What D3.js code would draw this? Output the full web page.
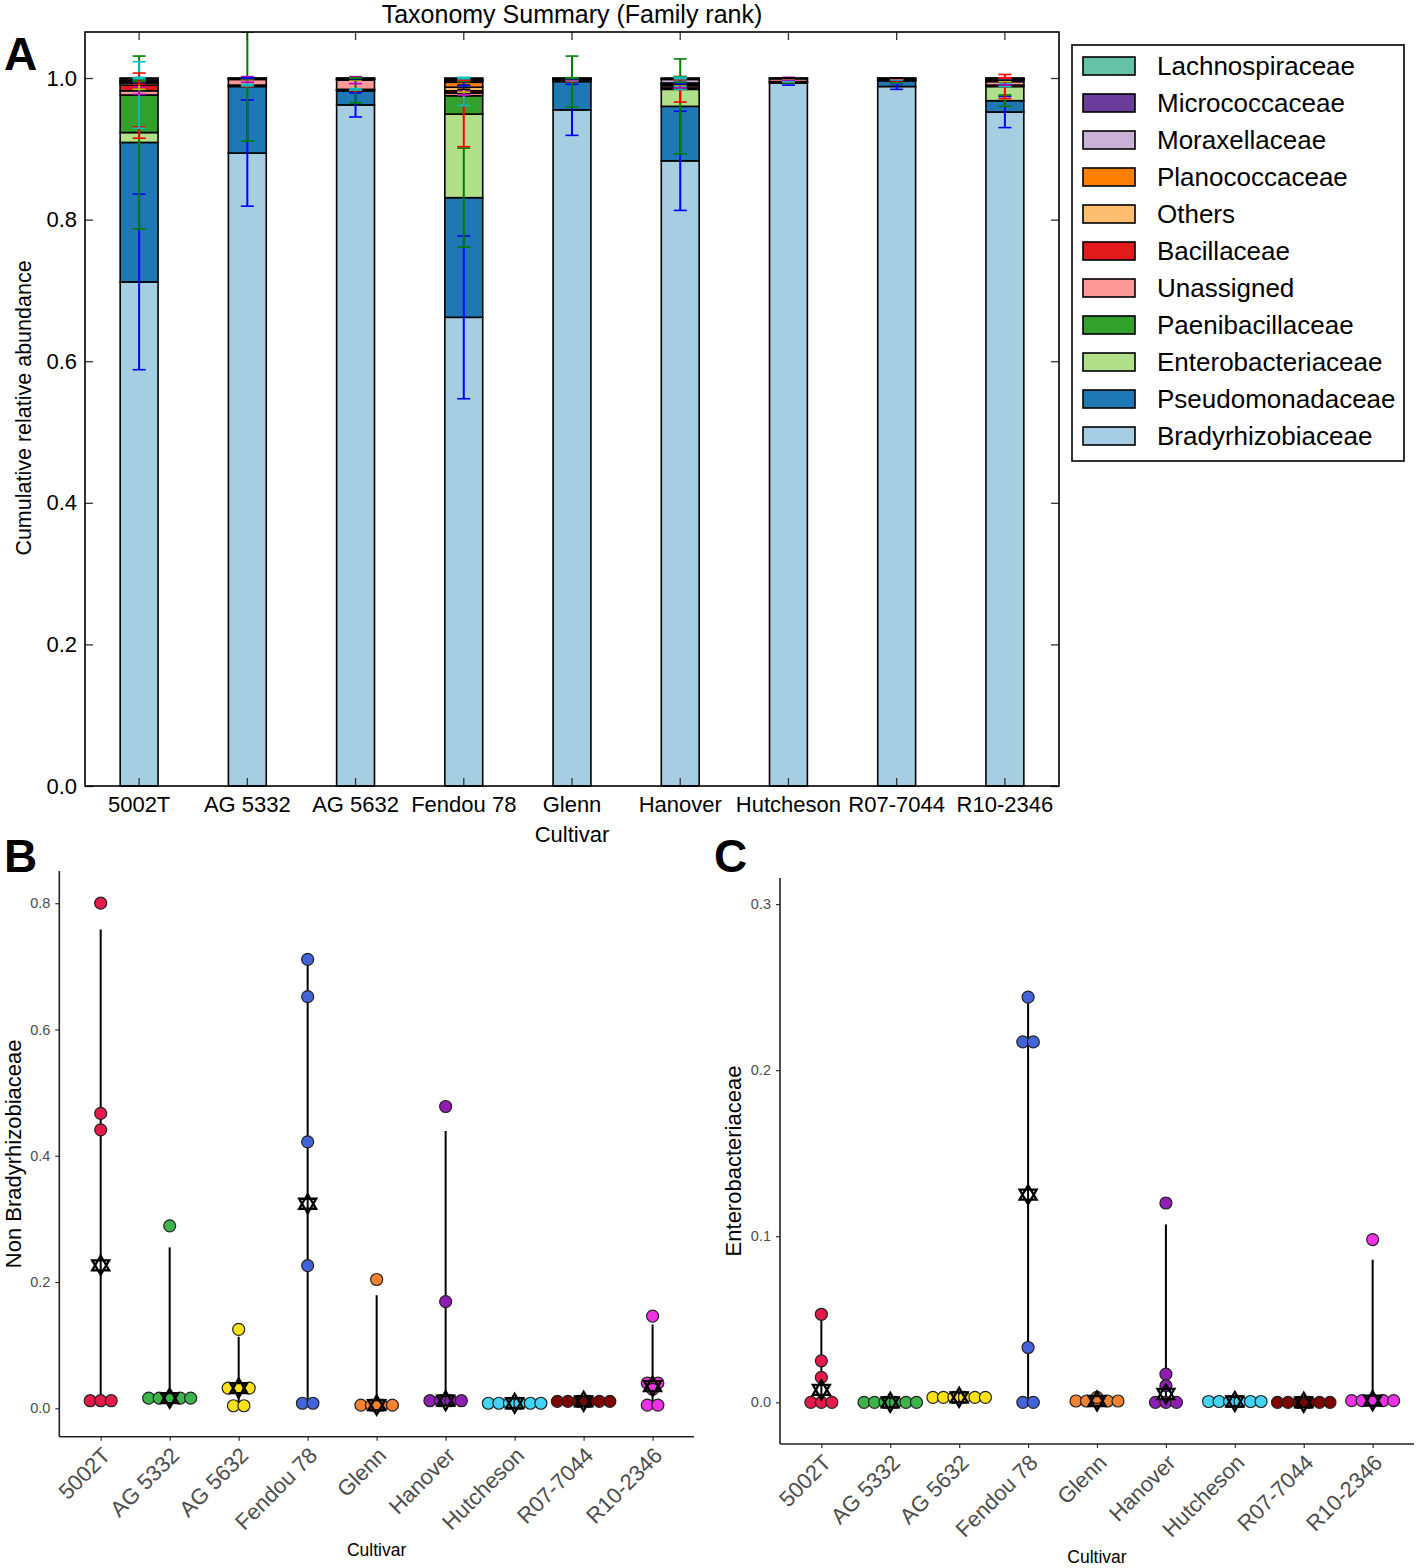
<!DOCTYPE html>
<html>
<head>
<meta charset="utf-8">
<script src="https://cdn.jsdelivr.net/npm/d3@7"></script>
<style>
  body { margin: 0; background: #fff; }
  svg { display: block; }
  text { font-family: "Liberation Sans", Arial, sans-serif; }
</style>
</head>
<body>
<svg id="chart" width="1418" height="1568"></svg>
<script>
// ---------------- DATA ----------------
const cultivars = ["5002T", "AG 5332", "AG 5632", "Fendou 78", "Glenn", "Hanover", "Hutcheson", "R07-7044", "R10-2346"];

const families = ["Bradyrhizobiaceae", "Pseudomonadaceae", "Enterobacteriaceae", "Paenibacillaceae",
  "Unassigned", "Bacillaceae", "Others", "Planococcaceae", "Moraxellaceae", "Micrococcaceae", "Lachnospiraceae"];
const familyColors = ["#a6cee3", "#1f78b4", "#b2df8a", "#33a02c", "#fb9a99", "#e31a1c",
  "#fdbf6f", "#ff7f00", "#cab2d6", "#6a3d9a", "#66c2a5"];

// mean relative abundance per cultivar (same order as cultivars)
const bradyrhizobiaceae  = [0.712, 0.894, 0.962, 0.662, 0.955, 0.883, 0.993, 0.988, 0.952];
const pseudomonadaceae   = [0.197, 0.094, 0.020, 0.169, 0.040, 0.077, 0.001, 0.008, 0.016];
const enterobacteriaceae = [0.014, 0.001, 0.001, 0.118, 0.001, 0.024, 0.0005, 0.001, 0.020];
const paenibacillaceae   = [0.053, 0.001, 0.001, 0.026, 0.001, 0.002, 0.0005, 0.001, 0.002];
const unassigned         = [0.006, 0.008, 0.013, 0.004, 0.001, 0.003, 0.004, 0.001, 0.005];
const bacillaceae        = [0.008, 0.001, 0.001, 0.003, 0.0005, 0.002, 0.0005, 0.0005, 0.002];
const others             = [0.003, 0.0005, 0.001, 0.005, 0.0005, 0.001, 0.0005, 0.0005, 0.001];
const planococcaceae     = [0.002, 0.0005, 0.0005, 0.007, 0.0005, 0.001, 0, 0, 0.001];
const moraxellaceae      = [0.001, 0, 0.0005, 0.002, 0.0005, 0.005, 0, 0, 0.0005];
const micrococcaceae     = [0.003, 0, 0, 0.002, 0, 0.001, 0, 0, 0.0005];
const lachnospiraceae    = [0.001, 0, 0, 0.002, 0, 0.001, 0, 0, 0];

// standard deviations (error bars at cumulative top of each segment)
const bradyrhizobiaceaeSD  = [0.124, 0.075, 0.017, 0.115, 0.036, 0.070, 0.003, 0.004, 0.022];
const pseudomonadaceaeSD   = [0.122, 0.077, 0.017, 0.070, 0.036, 0.067, 0.001, 0.003, 0.008];
const enterobacteriaceaeSD = [0.008, 0.001, 0.001, 0.046, 0.001, 0.018, 0.0005, 0.001, 0.017];
const paenibacillaceaeSD   = [0.047, 0.001, 0.001, 0.014, 0.001, 0.002, 0.0005, 0.001, 0.002];
const unassignedSD         = [0.005, 0.004, 0.005, 0.003, 0.001, 0.003, 0.002, 0.001, 0.005];
const bacillaceaeSD        = [0.006, 0.001, 0.001, 0.002, 0.0005, 0.001, 0.0003, 0.0005, 0.002];
const othersSD             = [0.002, 0.0005, 0.001, 0.003, 0.0005, 0.001, 0.0003, 0.0003, 0.001];
const planococcaceaeSD     = [0.001, 0.0005, 0.0005, 0.005, 0.0005, 0.001, 0, 0, 0.001];
const moraxellaceaeSD      = [0.001, 0, 0.0005, 0.001, 0.0005, 0.004, 0, 0, 0.0005];
const micrococcaceaeSD     = [0.008, 0, 0, 0.001, 0, 0.001, 0, 0, 0.0005];
const lachnospiraceaeSD    = [0.001, 0, 0, 0.001, 0, 0.001, 0, 0, 0];

const errorColors = ["#0000ff", "#008000", "#ff0000", "#00bfbf", "#bf00bf", "#bfbf00", "#000000"];
const yTicksA = [0, 0.2, 0.4, 0.6, 0.8, 1.0];

// Panel B: non-Bradyrhizobiaceae per sample (6 samples per cultivar)
const nonBradyrhizobiaceae = [
  [0.80, 0.467, 0.441, 0.012, 0.012, 0.012],
  [0.289, 0.016, 0.016, 0.016, 0.016, 0.016],
  [0.125, 0.032, 0.032, 0.032, 0.004, 0.004],
  [0.711, 0.652, 0.422, 0.226, 0.008, 0.008],
  [0.204, 0.005, 0.005, 0.005, 0.005, 0.003],
  [0.478, 0.169, 0.012, 0.012, 0.012, 0.012],
  [0.008, 0.008, 0.008, 0.008, 0.008, 0.008],
  [0.011, 0.011, 0.011, 0.011, 0.011, 0.011],
  [0.146, 0.040, 0.040, 0.030, 0.005, 0.005]
];
const yTicksB = [0, 0.2, 0.4, 0.6, 0.8];

// Panel C: Enterobacteriaceae per sample
const enterobacteriaceaeSamples = [
  [0.053, 0.025, 0.015, 0, 0, 0],
  [0, 0, 0, 0, 0, 0],
  [0.003, 0.003, 0.003, 0.003, 0.003, 0.003],
  [0.244, 0.217, 0.217, 0.033, 0, 0],
  [0.0008, 0.0008, 0.0008, 0.0008, 0.0008, 0.003],
  [0.120, 0.017, 0.010, 0, 0, 0],
  [0.0005, 0.0005, 0.0005, 0.0005, 0.0005, 0.0005],
  [0, 0, 0, 0, 0, 0],
  [0.098, 0.001, 0.001, 0.001, 0.001, 0.001]
];
const yTicksC = [0, 0.1, 0.2, 0.3];

const cultivarColors = ["#e6194b", "#3cb44b", "#ffe119", "#4363d8", "#f58231", "#911eb4", "#42d4f4", "#800000", "#f032e6"];

// ---------------- BUILD ----------------
const familyValues = [bradyrhizobiaceae, pseudomonadaceae, enterobacteriaceae, paenibacillaceae, unassigned,
  bacillaceae, others, planococcaceae, moraxellaceae, micrococcaceae, lachnospiraceae];
const familySD = [bradyrhizobiaceaeSD, pseudomonadaceaeSD, enterobacteriaceaeSD, paenibacillaceaeSD, unassignedSD,
  bacillaceaeSD, othersSD, planococcaceaeSD, moraxellaceaeSD, micrococcaceaeSD, lachnospiraceaeSD];

const svg = d3.select("#chart");

// ===== Panel A =====
const A = { left: 85, right: 1059, top: 32, bottom: 786 };
const xA = d3.scaleBand().domain(cultivars).range([A.left, A.right]).paddingInner(0.65).paddingOuter(0.325);
const yA = d3.scaleLinear().domain([0, 1.065]).range([A.bottom, A.top]);

const rows = cultivars.map((c, j) => {
  const r = { cultivar: c };
  families.forEach((f, i) => r[f] = familyValues[i][j]);
  return r;
});
const stacked = d3.stack().keys(families)(rows);

svg.append("clipPath").attr("id", "clipA").append("rect")
  .attr("x", A.left).attr("y", A.top).attr("width", A.right - A.left).attr("height", A.bottom - A.top);

const gA = svg.append("g");
// bars
stacked.forEach((layer, i) => {
  gA.append("g").selectAll("rect").data(layer).join("rect")
    .attr("x", d => xA(d.data.cultivar))
    .attr("y", d => yA(d[1]))
    .attr("width", xA.bandwidth())
    .attr("height", d => Math.max(0, yA(d[0]) - yA(d[1])))
    .attr("fill", familyColors[i])
    .attr("stroke", "#000")
    .attr("stroke-width", 1.6);
});
// error bars
const gErr = gA.append("g").attr("clip-path", "url(#clipA)");
stacked.forEach((layer, i) => {
  const col = errorColors[i % errorColors.length];
  layer.forEach((d, j) => {
    const sd = familySD[i][j];
    if (!(sd > 0)) return;
    const cx = xA(d.data.cultivar) + xA.bandwidth() / 2;
    const y1 = yA(d[1] - sd), y2 = yA(d[1] + sd);
    gErr.append("line").attr("x1", cx).attr("x2", cx).attr("y1", y1).attr("y2", y2)
      .attr("stroke", col).attr("stroke-width", 2);
    [y1, y2].forEach(yy => gErr.append("line").attr("x1", cx - 6.5).attr("x2", cx + 6.5)
      .attr("y1", yy).attr("y2", yy).attr("stroke", col).attr("stroke-width", 1.6));
  });
});

// axes A
function styleAxis(g) {
  g.select(".domain").remove();
  g.selectAll(".tick line").attr("stroke", "#333").attr("stroke-width", 1.3);
}
gA.append("g").attr("transform", `translate(${A.left},0)`)
  .call(d3.axisLeft(yA).tickValues(yTicksA).tickSize(-8).tickPadding(8).tickFormat(d3.format(".1f")))
  .call(styleAxis)
  .call(g => g.selectAll("text").attr("font-size", 22).attr("fill", "#000").style("font-family", '"Liberation Sans", Arial, sans-serif'));
gA.append("g").attr("transform", `translate(${A.right},0)`)
  .call(d3.axisRight(yA).tickValues(yTicksA).tickSize(-8).tickFormat(""))
  .call(styleAxis);
gA.append("g").attr("transform", `translate(0,${A.top})`)
  .call(d3.axisTop(xA).tickSize(-8).tickFormat(""))
  .call(styleAxis);
gA.append("g").attr("transform", `translate(0,${A.bottom})`)
  .call(d3.axisBottom(xA).tickSize(-8).tickPadding(10))
  .call(styleAxis)
  .call(g => g.selectAll("text").attr("font-size", 22).attr("fill", "#000").style("font-family", '"Liberation Sans", Arial, sans-serif'));
gA.append("rect").attr("x", A.left).attr("y", A.top).attr("width", A.right - A.left).attr("height", A.bottom - A.top)
  .attr("fill", "none").attr("stroke", "#000").attr("stroke-width", 1.6);

gA.append("text").attr("x", (A.left + A.right) / 2).attr("y", 23).attr("text-anchor", "middle")
  .attr("font-size", 25).text("Taxonomy Summary (Family rank)");
gA.append("text").attr("x", (A.left + A.right) / 2).attr("y", 842).attr("text-anchor", "middle")
  .attr("font-size", 22).text("Cultivar");
gA.append("text").attr("transform", `translate(31,408) rotate(-90)`)
  .attr("text-anchor", "middle").attr("font-size", 21.5).text("Cumulative relative abundance");

// legend
const L = { x: 1072, y: 45, w: 332, h: 416, rowH: 37 };
const gL = svg.append("g");
gL.append("rect").attr("x", L.x).attr("y", L.y).attr("width", L.w).attr("height", L.h)
  .attr("fill", "#fff").attr("stroke", "#000").attr("stroke-width", 1.6);
const legendOrder = families.map((f, i) => ({ f, c: familyColors[i] })).reverse();
legendOrder.forEach((d, k) => {
  const cy = 66 + k * L.rowH;
  gL.append("rect").attr("x", 1083).attr("y", cy - 9).attr("width", 52).attr("height", 18)
    .attr("fill", d.c).attr("stroke", "#000").attr("stroke-width", 1.6);
  gL.append("text").attr("x", 1157).attr("y", cy).attr("dy", "0.36em").attr("font-size", 26).text(d.f);
});

// panel letters
[["A", 4, 70], ["B", 4, 872], ["C", 714, 872]].forEach(([t, x, y]) =>
  svg.append("text").attr("x", x).attr("y", y).attr("font-size", 46).attr("font-weight", "bold").text(t));

// ===== Panels B & C =====
function starPath(cx, cy) {
  const w = 8.5, h = 9.5, b = 5;
  return `M${cx},${cy - h}L${cx - w},${cy + b}L${cx + w},${cy + b}Z` +
         `M${cx},${cy + h}L${cx - w},${cy - b}L${cx + w},${cy - b}Z`;
}

function dotPanel(P, samples, domain, ticks, yTitle, titleX) {
  const x = d3.scalePoint().domain(cultivars).range([P.left, P.right]).padding(0.6);
  const y = d3.scaleLinear().domain(domain).range([P.bottom, P.top]);
  const g = svg.append("g");

  // summary lines (2.5%-97.5% quantile range) and median
  const summ = samples.map((vals, j) => {
    const s = vals.slice().sort(d3.ascending);
    return { c: cultivars[j], lo: d3.quantileSorted(s, 0.025), hi: d3.quantileSorted(s, 0.975), med: d3.median(s) };
  });
  g.append("g").selectAll("line").data(summ).join("line")
    .attr("x1", d => x(d.c)).attr("x2", d => x(d.c))
    .attr("y1", d => y(d.lo)).attr("y2", d => y(d.hi))
    .attr("stroke", "#000").attr("stroke-width", 2);

  // dots, dodged horizontally when equal
  const pts = [];
  samples.forEach((vals, j) => {
    const groups = d3.group(vals, v => v);
    groups.forEach((arr, v) => {
      arr.forEach((_, k) => pts.push({ c: cultivars[j], j, v, off: (k - (arr.length - 1) / 2) * 10.5 }));
    });
  });
  g.append("g").selectAll("circle").data(pts).join("circle")
    .attr("cx", d => x(d.c) + d.off).attr("cy", d => y(d.v)).attr("r", 6)
    .attr("fill", d => cultivarColors[d.j]).attr("stroke", "#222").attr("stroke-width", 1.2);

  g.append("g").selectAll("path").data(summ).join("path")
    .attr("d", d => starPath(x(d.c), y(d.med)))
    .attr("fill", "none").attr("stroke", "#000").attr("stroke-width", 2.3);

  // axes
  g.append("g").attr("transform", `translate(${P.left},0)`)
    .call(d3.axisLeft(y).tickValues(ticks).tickSize(4).tickPadding(5).tickFormat(d3.format(".1f")))
    .call(gg => gg.select(".domain").remove())
    .call(gg => gg.selectAll(".tick line").attr("stroke", "#333").attr("stroke-width", 1.2))
    .call(gg => gg.selectAll("text").attr("font-size", 14.5).attr("fill", "#4d4d4d").style("font-family", '"Liberation Sans", Arial, sans-serif'));
  g.append("g").attr("transform", `translate(0,${P.bottom})`)
    .call(d3.axisBottom(x).tickSize(4).tickFormat(""))
    .call(gg => gg.select(".domain").remove())
    .call(gg => gg.selectAll(".tick line").attr("stroke", "#333").attr("stroke-width", 1.2));
  g.append("g").selectAll("text").data(cultivars).join("text")
    .attr("transform", d => `translate(${x(d)},${P.bottom + 9}) rotate(-45)`)
    .attr("text-anchor", "end").attr("dy", "0.71em")
    .attr("font-size", 22).attr("fill", "#4d4d4d").text(d => d);
  g.append("line").attr("x1", P.left).attr("x2", P.left).attr("y1", P.top).attr("y2", P.bottom)
    .attr("stroke", "#222").attr("stroke-width", 1.6);
  g.append("line").attr("x1", P.left).attr("x2", P.right).attr("y1", P.bottom).attr("y2", P.bottom)
    .attr("stroke", "#222").attr("stroke-width", 1.6);

  g.append("text").attr("x", (P.left + P.right) / 2).attr("y", P.titleY).attr("text-anchor", "middle")
    .attr("font-size", 17.5).attr("fill", "#000").text("Cultivar");
  g.append("text").attr("transform", `translate(${titleX},${(P.top + P.bottom) / 2}) rotate(-90)`)
    .attr("text-anchor", "middle").attr("font-size", 22).attr("fill", "#000").text(yTitle);
}

dotPanel({ left: 59.3, right: 694, top: 871, bottom: 1436.7, titleY: 1556 },
  nonBradyrhizobiaceae, [-0.045, 0.851], yTicksB, "Non Bradyrhizobiaceae", 21);
dotPanel({ left: 780, right: 1414, top: 878, bottom: 1444, titleY: 1563 },
  enterobacteriaceaeSamples, [-0.0251, 0.3157], yTicksC, "Enterobacteriaceae", 741);
</script>
</body>
</html>
